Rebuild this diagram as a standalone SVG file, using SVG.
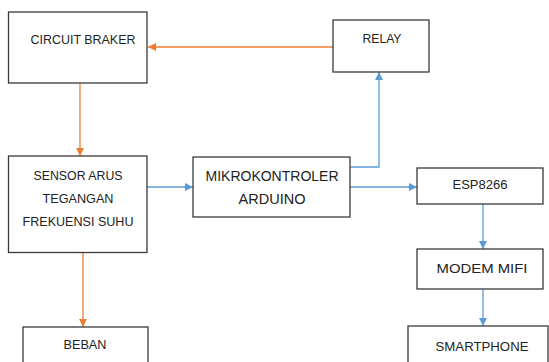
<svg xmlns="http://www.w3.org/2000/svg" width="549" height="362" viewBox="0 0 549 362">
<style>
.box{fill:#fff;stroke:#3a3a3a;stroke-width:1.3}
.t{font-family:"Liberation Sans",Arial,sans-serif;font-size:13.5px;fill:#222;text-anchor:middle}
.tl{font-size:15px}
.o{stroke:#ED7D31;stroke-width:1.3;fill:none}
.b{stroke:#5B9BD5;stroke-width:1.3;fill:none}
</style>
<defs>
<marker id="ao" viewBox="0 0 10 10" refX="10" refY="5" markerWidth="8" markerHeight="8" markerUnits="userSpaceOnUse" orient="auto"><path d="M0,0 L10,5 L0,10 z" fill="#ED7D31"/></marker>
<marker id="ab" viewBox="0 0 10 10" refX="10" refY="5" markerWidth="8" markerHeight="8" markerUnits="userSpaceOnUse" orient="auto"><path d="M0,0 L10,5 L0,10 z" fill="#5B9BD5"/></marker>
</defs>
<rect width="549" height="362" fill="#fff"/>
<g id="connectors">
<line class="o" x1="333" y1="47" x2="148" y2="47" marker-end="url(#ao)"/>
<line class="o" x1="80" y1="83" x2="80" y2="156" marker-end="url(#ao)"/>
<line class="o" x1="83" y1="253" x2="83" y2="327" marker-end="url(#ao)"/>
<line class="b" x1="147" y1="187" x2="193" y2="187" marker-end="url(#ab)"/>
<polyline class="b" points="350,167 379,167 379,72" marker-end="url(#ab)"/>
<line class="b" x1="350" y1="187" x2="417" y2="187" marker-end="url(#ab)"/>
<line class="b" x1="483" y1="204" x2="483" y2="249" marker-end="url(#ab)"/>
<line class="b" x1="483" y1="289" x2="483" y2="326" marker-end="url(#ab)"/>
</g>
<g id="circuit-braker"><rect class="box" x="8.5" y="12" width="138.5" height="71"/><text class="t" x="83" y="44" textLength="105" lengthAdjust="spacingAndGlyphs">CIRCUIT BRAKER</text></g>
<g id="relay"><rect class="box" x="333" y="20" width="96" height="52"/><text class="t" x="382" y="43" textLength="39" lengthAdjust="spacingAndGlyphs">RELAY</text></g>
<g id="sensor"><rect class="box" x="8.5" y="156" width="138.5" height="96.5"/>
<text class="t" x="78" y="180" textLength="89" lengthAdjust="spacingAndGlyphs">SENSOR ARUS</text>
<text class="t" x="78" y="203" textLength="71" lengthAdjust="spacingAndGlyphs">TEGANGAN</text>
<text class="t" x="78" y="226" textLength="111" lengthAdjust="spacingAndGlyphs">FREKUENSI SUHU</text></g>
<g id="mikrokontroler"><rect class="box" x="193" y="157" width="157" height="60"/>
<text class="t tl" x="272" y="181" textLength="133" lengthAdjust="spacingAndGlyphs">MIKROKONTROLER</text>
<text class="t tl" x="272" y="204" textLength="67" lengthAdjust="spacingAndGlyphs">ARDUINO</text></g>
<g id="esp8266"><rect class="box" x="417" y="168" width="126" height="36"/><text class="t" x="480" y="189" textLength="55" lengthAdjust="spacingAndGlyphs">ESP8266</text></g>
<g id="modem-mifi"><rect class="box" x="417" y="249" width="126" height="40"/><text class="t" x="482" y="273" textLength="91" lengthAdjust="spacingAndGlyphs">MODEM MIFI</text></g>
<g id="smartphone"><rect class="box" x="408" y="326" width="140" height="50"/><text class="t" x="482" y="351" textLength="93" lengthAdjust="spacingAndGlyphs">SMARTPHONE</text></g>
<g id="beban"><rect class="box" x="23" y="327" width="125" height="50"/><text class="t" x="85" y="349" textLength="43" lengthAdjust="spacingAndGlyphs">BEBAN</text></g>
</svg>
